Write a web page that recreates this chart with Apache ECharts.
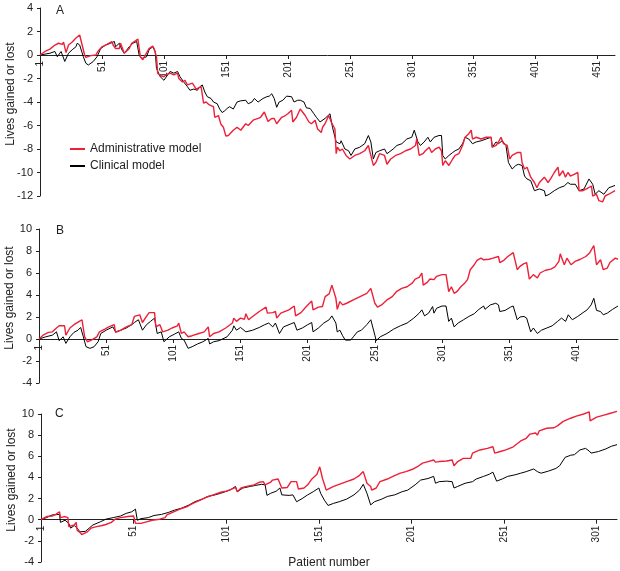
<!DOCTYPE html>
<html>
<head>
<meta charset="utf-8">
<script src="https://cdn.jsdelivr.net/npm/echarts@6/dist/echarts.min.js"></script>
<style>
html,body{margin:0;padding:0;background:#fff;}
#chart{width:620px;height:571px;}
</style>
</head>
<body>
<div id="chart"></div>
<script>
// ---------- data (patient number, lives gained or lost) ----------
const seriesNames = ['Administrative model', 'Clinical model'];
const panelLetters = ['A', 'B', 'C'];
const xTicksA = [1, 51, 101, 151, 201, 251, 301, 351, 401, 451];
const xTicksB = [1, 51, 101, 151, 201, 251, 301, 351, 401];
const xTicksC = [1, 51, 101, 151, 201, 251, 301];
const xTitle = 'Patient number';
const yTitle = 'Lives gained or lost';

const adminA = [[1,0],[5,0.3],[9,0.5],[13,0.85],[16,1.0],[19,0.9],[20,1.1],[22,0.2],[24,0.85],[27,1.1],[30,1.45],[33,1.7],[37,0],[38,-0.2],[42,-0.05],[46,0],[48,0.35],[51,0.7],[55,0.9],[59,1.15],[60,0.85],[62,0.55],[65,0.55],[66,1.0],[69,0.15],[73,0.55],[75,1.0],[78,1.2],[80,1.35],[82,-0.15],[84,-0.4],[86,0],[89,0.55],[92,0.75],[93,0.55],[95,-0.15],[96,-1.55],[98,-1.75],[101,-1.85],[103,-1.65],[106,-1.55],[109,-1.7],[112,-1.55],[113,-2.0],[116,-2.3],[118,-2.15],[120,-2.55],[124,-2.4],[127,-2.9],[129,-2.8],[131,-2.7],[132,-2.6],[133,-4.1],[135,-4.0],[137,-4.2],[139,-4.3],[141,-4.4],[142,-5.3],[145,-5.15],[147,-5.9],[149,-6.15],[151,-6.9],[153,-6.85],[157,-6.4],[160,-6.15],[163,-6.4],[167,-5.85],[169,-6.0],[173,-5.55],[177,-5.4],[179,-5.3],[182,-4.85],[185,-5.65],[188,-5.4],[190,-5.4],[192,-5.85],[196,-5.3],[199,-5.15],[201,-5.0],[204,-4.7],[205,-5.7],[208,-5.3],[211,-4.6],[215,-5.15],[218,-5.7],[220,-5.85],[223,-5.55],[225,-6.3],[228,-6.6],[229,-6.15],[231,-5.85],[234,-5.15],[236,-5.7],[239,-6.3],[240,-8.4],[241,-7.85],[243,-8.15],[245,-8.0],[248,-8.55],[251,-8.85],[255,-8.55],[259,-8.4],[263,-8.15],[266,-7.7],[267,-8.15],[270,-9.4],[272,-9.15],[275,-8.4],[279,-8.55],[281,-9.3],[284,-8.85],[288,-8.55],[292,-8.4],[296,-8.15],[300,-8.0],[304,-7.7],[305,-7.15],[307,-8.55],[310,-8.4],[312,-8.15],[315,-7.85],[317,-8.3],[320,-8.0],[323,-7.85],[325,-8.15],[326,-9.4],[328,-9.0],[331,-9.4],[334,-8.85],[336,-8.55],[339,-8.4],[342,-7.7],[344,-7.0],[347,-6.7],[349,-6.4],[350,-7.15],[353,-7.0],[357,-7.15],[361,-7.0],[365,-7.0],[366,-7.85],[369,-7.7],[371,-7.4],[373,-7.0],[375,-7.55],[378,-7.7],[380,-8.85],[382,-8.55],[386,-8.3],[389,-8.3],[390,-9.15],[392,-9.7],[394,-9.55],[397,-10.4],[400,-10.85],[402,-11.3],[404,-10.85],[408,-10.4],[411,-10.85],[413,-10.55],[416,-10.0],[419,-9.55],[420,-10.3],[423,-9.85],[425,-10.4],[427,-10.0],[429,-10.3],[432,-10.15],[435,-10.0],[436,-11.55],[439,-11.55],[442,-11.4],[446,-11.15],[447,-12.0],[450,-11.85],[452,-12.4],[455,-12.5],[457,-12.0],[460,-11.85],[465,-11.55]];

const clinicalA = [[1,0],[9,0.15],[13,0.3],[15,-0.15],[18,0.3],[21,-0.55],[24,0.15],[27,0.45],[30,0.7],[31,1.0],[33,0.85],[36,-0.15],[38,-0.7],[40,-0.85],[44,-0.55],[47,-0.15],[50,0.55],[54,0.85],[58,1.0],[61,1.15],[62,0.7],[65,1.0],[67,0.45],[69,0.15],[73,0.7],[76,1.0],[79,1.15],[81,0],[83,-0.3],[87,-0.15],[89,0.45],[92,0.7],[94,0.3],[95,-1.15],[98,-1.85],[101,-2.15],[103,-1.85],[106,-1.4],[109,-1.55],[112,-1.4],[114,-1.85],[117,-2.3],[120,-2.7],[122,-3.0],[125,-2.9],[128,-3.0],[130,-2.7],[132,-2.55],[134,-3.15],[136,-3.55],[139,-3.7],[141,-4.0],[144,-4.15],[146,-4.6],[148,-4.9],[150,-4.75],[152,-4.55],[154,-4.4],[157,-4.6],[160,-4.0],[163,-3.9],[167,-3.85],[169,-4.15],[172,-4.0],[174,-3.7],[177,-4.0],[181,-3.7],[184,-3.55],[186,-3.5],[188,-3.3],[190,-3.7],[192,-4.45],[194,-4.0],[197,-3.85],[200,-3.5],[204,-3.55],[206,-4.0],[209,-3.85],[211,-3.85],[214,-4.0],[216,-4.5],[219,-4.55],[222,-5.0],[224,-5.3],[227,-5.7],[231,-5.4],[235,-5.0],[237,-6.15],[240,-7.4],[243,-7.55],[244,-7.3],[247,-8.0],[250,-8.15],[252,-8.55],[255,-8.0],[259,-7.85],[263,-7.55],[266,-6.85],[268,-7.4],[270,-8.85],[272,-8.3],[275,-8.15],[279,-8.0],[281,-8.4],[286,-8.0],[289,-7.7],[293,-7.55],[297,-7.15],[301,-7.0],[303,-6.4],[306,-7.4],[308,-7.7],[311,-7.4],[314,-7.0],[316,-7.4],[319,-7.0],[323,-6.85],[325,-6.85],[326,-8.55],[328,-8.85],[331,-8.55],[334,-8.3],[336,-8.15],[339,-8.0],[342,-7.55],[344,-7.0],[347,-7.15],[350,-7.55],[353,-7.4],[357,-7.3],[361,-7.15],[365,-7.0],[366,-7.85],[369,-7.4],[371,-7.55],[374,-7.3],[377,-7.7],[379,-9.15],[382,-9.7],[385,-9.4],[387,-9.3],[390,-9.4],[392,-10.3],[394,-10.55],[397,-10.7],[400,-11.55],[404,-11.4],[408,-11.55],[409,-12.0],[412,-11.85],[416,-11.55],[420,-11.3],[424,-11.15],[427,-10.85],[429,-11.0],[433,-11.0],[436,-11.55],[440,-11.4],[444,-10.55],[447,-11.0],[449,-11.85],[452,-11.55],[456,-11.85],[460,-11.3],[465,-11.1]];

const adminB = [[1,0],[4,0.35],[8,0.6],[11,0.65],[14,1.0],[16,1.2],[20,1.2],[21,0.35],[24,1.0],[27,1.3],[31,1.6],[33,1.75],[35,0.2],[37,-0.25],[40,-0.1],[44,0.2],[46,0.65],[50,0.9],[53,1.1],[57,1.3],[58,0.6],[62,0.8],[66,1.1],[70,1.3],[72,2.05],[76,2.2],[78,1.5],[81,2.05],[83,2.4],[87,2.4],[88,1.1],[91,1.3],[93,0.65],[97,0.8],[100,1.0],[104,1.2],[105,1.45],[107,0.5],[109,0.65],[112,0.2],[115,0.3],[120,0.5],[124,0.65],[127,1.1],[128,0.2],[131,0.5],[135,0.65],[140,1.0],[145,1.45],[146,1.9],[148,1.6],[151,1.9],[154,1.8],[155,2.3],[157,1.75],[160,2.05],[165,2.5],[170,2.9],[171,2.35],[175,2.4],[177,2.5],[178,1.9],[181,2.35],[187,2.65],[191,3.0],[192,2.1],[196,2.4],[200,2.95],[204,3.45],[205,2.65],[209,2.9],[212,2.95],[214,3.85],[217,4.1],[219,4.9],[222,3.7],[223,2.7],[225,3.4],[227,3.1],[230,3.25],[235,3.55],[240,3.85],[245,4.15],[248,4.6],[251,3.25],[253,2.9],[256,3.1],[260,3.55],[264,3.85],[267,4.3],[271,4.6],[275,4.75],[279,5.1],[281,5.45],[284,5.6],[286,6.0],[287,4.9],[290,5.15],[292,5.45],[295,5.4],[297,5.7],[301,5.85],[304,5.85],[306,4.3],[308,4.75],[310,4.15],[312,4.3],[315,4.75],[318,5.1],[320,5.4],[322,6.3],[325,6.75],[327,7.15],[330,7.35],[332,7.2],[336,7.25],[339,7.35],[343,7.5],[344,6.95],[347,7.15],[350,7.5],[354,7.85],[357,6.3],[359,6.6],[362,6.85],[364,6.95],[366,5.45],[369,5.85],[372,5.55],[374,6.0],[378,6.25],[382,6.35],[385,6.55],[388,7.05],[389,7.75],[392,6.75],[394,7.35],[397,6.75],[400,7.05],[404,7.25],[408,7.5],[411,7.85],[414,8.5],[416,6.75],[419,7.2],[421,6.3],[424,6.45],[426,6.95],[430,7.35],[432,7.25]];

const clinicalB = [[1,0],[6,0.2],[11,0.35],[14,0.65],[16,-0.15],[19,0.2],[21,-0.4],[24,0.2],[27,0.6],[30,0.8],[32,1.05],[34,0.2],[36,-0.7],[39,-0.85],[42,-0.7],[45,-0.25],[47,0.5],[51,0.8],[56,1.1],[58,0.65],[62,0.8],[66,1.0],[70,1.3],[72,1.5],[75,1.75],[78,0.8],[81,1.3],[84,1.6],[87,1.9],[89,0.5],[92,0.65],[94,-0.25],[98,0.2],[102,0.45],[105,0.65],[107,0.05],[109,-0.1],[112,-0.85],[115,-0.7],[119,-0.45],[123,-0.25],[127,0.05],[128,-0.45],[131,-0.25],[135,-0.15],[141,0.2],[145,0.8],[146,1.2],[148,0.8],[151,1.05],[155,0.65],[160,0.8],[165,1.05],[169,1.3],[172,1.45],[175,1.1],[177,1.45],[180,0.5],[183,1.1],[188,1.35],[191,1.5],[193,0.8],[197,1.0],[201,1.3],[204,1.5],[205,0.65],[209,1.0],[213,1.45],[217,1.75],[219,2.1],[222,1.45],[223,0.65],[225,0.8],[227,0.3],[229,-0.1],[233,-0.1],[235,0.2],[238,0.65],[241,0.8],[245,1.3],[248,1.75],[251,0.35],[252,-0.15],[255,0.2],[260,0.5],[265,0.9],[270,1.2],[275,1.45],[280,1.9],[284,2.35],[286,2.65],[288,2.1],[291,2.35],[294,2.95],[295,2.35],[297,2.8],[301,3.0],[304,3.0],[306,1.6],[308,1.9],[310,1.1],[313,1.45],[317,1.75],[321,2.05],[325,2.3],[328,2.65],[332,3.0],[333,2.7],[337,3.1],[341,3.25],[343,3.1],[344,2.5],[348,2.6],[352,2.9],[354,3.0],[357,1.75],[359,2.0],[362,2.05],[364,1.9],[367,0.65],[369,1.0],[372,0.5],[375,0.8],[379,1.0],[383,1.2],[387,1.6],[390,1.9],[393,1.6],[395,2.2],[398,1.75],[402,2.05],[406,2.4],[409,2.65],[412,3.1],[414,3.7],[416,2.6],[419,2.5],[421,2.2],[424,2.35],[428,2.7],[432,3.0]];

const adminC = [[1,0],[4,0.3],[7,0.35],[9,0.5],[11,0.75],[11.5,0.2],[14,0.3],[15.5,0.2],[16,-0.65],[17,-0.8],[19,-0.5],[20,-0.25],[20.5,-1.0],[22,-1.2],[23,-1.4],[26,-1.15],[28,-0.8],[31,-0.65],[34,-0.55],[36,-0.45],[39,-0.25],[41,0.05],[44,0.2],[48,0.3],[51,0.35],[52,-0.35],[53,-0.5],[55,-0.35],[58,-0.2],[61,-0.05],[65,0.05],[68,0.2],[69,0.45],[72,0.7],[76,1.0],[80,1.25],[83,1.55],[87,1.85],[90,2.1],[94,2.35],[98,2.6],[101,2.7],[104,2.9],[106,3.05],[107,2.65],[109,3.0],[112,3.15],[116,3.3],[119,3.55],[121,3.6],[122,3.3],[125,3.55],[126,3.75],[129,3.85],[130,3.9],[131,3.0],[134,3.05],[135,3.0],[136,3.6],[139,3.6],[140,2.9],[143,3.0],[145,3.3],[147,3.8],[150,4.3],[151.5,5.0],[153,3.9],[155,2.8],[159,3.15],[162,3.35],[166,3.6],[170,3.85],[173,4.2],[175,4.55],[177,3.45],[179,3.15],[179.5,2.8],[182,3.0],[184,3.6],[188,3.85],[191,4.1],[195,4.4],[198,4.55],[202,4.8],[205,5.1],[207,5.35],[210,5.5],[213,5.65],[214,5.45],[216,5.5],[220,5.55],[223,5.65],[224,5.1],[226,5.5],[229,5.8],[233,5.8],[234,6.3],[238,6.6],[242,6.75],[245,6.9],[246,6.3],[249,6.45],[252,6.6],[256,6.9],[260,7.45],[263,7.7],[265,8.1],[268,8.2],[269,8.0],[270,8.4],[274,8.65],[278,8.7],[280,8.9],[283,9.3],[287,9.6],[290,9.8],[294,10.0],[297,10.2],[297.5,9.35],[301,9.7],[305,9.9],[308,10.05],[312,10.25]];

const clinicalC = [[1,0],[4,0.2],[7,0.45],[11,0.5],[11.5,-0.25],[14,-0.05],[16,-0.35],[17,-0.8],[19,-0.55],[21,-0.9],[22,-1.15],[25,-1.1],[27,-0.8],[29,-0.5],[33,-0.2],[36,0.05],[40,0.2],[44,0.35],[47,0.6],[50,0.75],[52,1.0],[53,-0.05],[55,0.1],[59,0.2],[62,0.4],[66,0.5],[70,0.7],[73,0.9],[77,1.1],[81,1.4],[84,1.7],[88,1.95],[91,2.2],[95,2.35],[98,2.5],[103,2.8],[106,3.15],[107,2.65],[110,3.0],[114,3.15],[117,3.25],[120,3.35],[122,3.3],[123,2.3],[125,2.5],[128,2.7],[130,3.0],[131,2.35],[135,2.3],[137,2.35],[139,1.7],[142,2.0],[145,2.35],[148,2.65],[151,3.0],[152,2.5],[154,1.85],[156,1.35],[159,1.55],[162,1.7],[166,1.95],[170,2.35],[173,2.8],[175,3.35],[177,2.5],[179,1.4],[181,1.7],[185,1.95],[188,2.2],[192,2.35],[196,2.65],[199,2.8],[203,3.3],[206,3.75],[210,3.9],[213,4.1],[214,3.45],[216,3.6],[220,3.65],[223,3.6],[224,3.0],[226,3.15],[230,3.45],[234,3.6],[236,3.85],[240,4.1],[243,4.3],[245,4.5],[247,3.65],[250,3.85],[253,4.1],[257,4.25],[260,4.4],[263,4.55],[267,4.8],[269,4.55],[271,4.4],[275,4.6],[279,4.85],[281,5.1],[284,5.9],[287,6.1],[289,6.15],[292,6.6],[295,6.75],[297,6.5],[298,6.3],[302,6.45],[306,6.7],[309,6.95],[312,7.1]];

// ---------- chart ----------
const FONT = 'Liberation Sans, Arial, sans-serif';
const TXT = '#222';
const RED = '#ee2038';

const panels = [
  {grid: {left: 40, top: 8, width: 575, height: 188}, xmax: 465, ymin: -12, ymax: 4, ticks: xTicksA, admin: adminA, clinical: clinicalA, letterPos: [56, 5]},
  {grid: {left: 39, top: 229, width: 579, height: 154}, xmax: 432, ymin: -4, ymax: 10, ticks: xTicksB, admin: adminB, clinical: clinicalB, letterPos: [56, 225]},
  {grid: {left: 41, top: 414, width: 576, height: 148}, xmax: 312, ymin: -4, ymax: 10, ticks: xTicksC, admin: adminC, clinical: clinicalC, letterPos: [55, 408]}
];

const grids = [], xAxes = [], yAxes = [], series = [], graphics = [];
panels.forEach((p, i) => {
  grids.push(Object.assign({outerBoundsMode: 'none', containLabel: false}, p.grid));
  // x axis sits on the zero line: shift it up from the grid bottom
  const zeroShift = p.grid.height * (0 - p.ymin) / (p.ymax - p.ymin);
  xAxes.push({
    type: 'value', gridIndex: i, min: 1, max: p.xmax,
    offset: -zeroShift,
    axisLine: {show: true, onZero: false, lineStyle: {color: '#222', width: 1}},
    axisTick: {show: true, length: 4, customValues: p.ticks, lineStyle: {color: '#222'}},
    axisLabel: {rotate: 90, fontSize: 10, color: TXT, fontFamily: FONT, margin: 6, customValues: p.ticks},
    splitLine: {show: false},
    name: i === 2 ? xTitle : '',
    nameLocation: 'middle', nameGap: 37, nameMoveOverlap: false,
    nameTextStyle: {fontSize: 12, color: TXT, fontFamily: FONT}
  });
  yAxes.push({
    type: 'value', gridIndex: i, min: p.ymin, max: p.ymax, interval: 2,
    axisLine: {show: true, lineStyle: {color: '#222', width: 1}},
    axisTick: {show: true, length: 3, lineStyle: {color: '#222'}},
    axisLabel: {fontSize: 11, color: TXT, fontFamily: FONT, margin: 7},
    splitLine: {show: false},
    name: yTitle, nameLocation: 'middle', nameGap: 23, nameMoveOverlap: false,
    nameTextStyle: {fontSize: 12, color: TXT, fontFamily: FONT, padding: [0, 0, 0, 16]}
  });
  series.push({
    name: seriesNames[1], type: 'line', xAxisIndex: i, yAxisIndex: i,
    data: p.clinical, showSymbol: false, clip: false, z: 2,
    lineStyle: {color: '#000', width: 1}, itemStyle: {color: '#000'}
  });
  series.push({
    name: seriesNames[0], type: 'line', xAxisIndex: i, yAxisIndex: i,
    data: p.admin, showSymbol: false, clip: false, z: 3,
    lineStyle: {color: RED, width: 1.4}, itemStyle: {color: RED}
  });
  graphics.push({
    type: 'text', left: p.letterPos[0], top: p.letterPos[1],
    style: {text: panelLetters[i], fontSize: 12, fill: TXT, fontFamily: FONT}
  });
});

const chart = echarts.init(document.getElementById('chart'), null, {renderer: 'canvas'});
chart.setOption({
  animation: false,
  backgroundColor: '#fff',
  grid: grids,
  xAxis: xAxes,
  yAxis: yAxes,
  legend: {
    data: seriesNames, orient: 'vertical', left: 70, top: 143, padding: 0,
    itemWidth: 15, itemHeight: 2, itemGap: 5, icon: 'rect',
    textStyle: {fontSize: 12, color: TXT, fontFamily: FONT}
  },
  graphic: graphics,
  series: series
});
</script>
</body>
</html>
